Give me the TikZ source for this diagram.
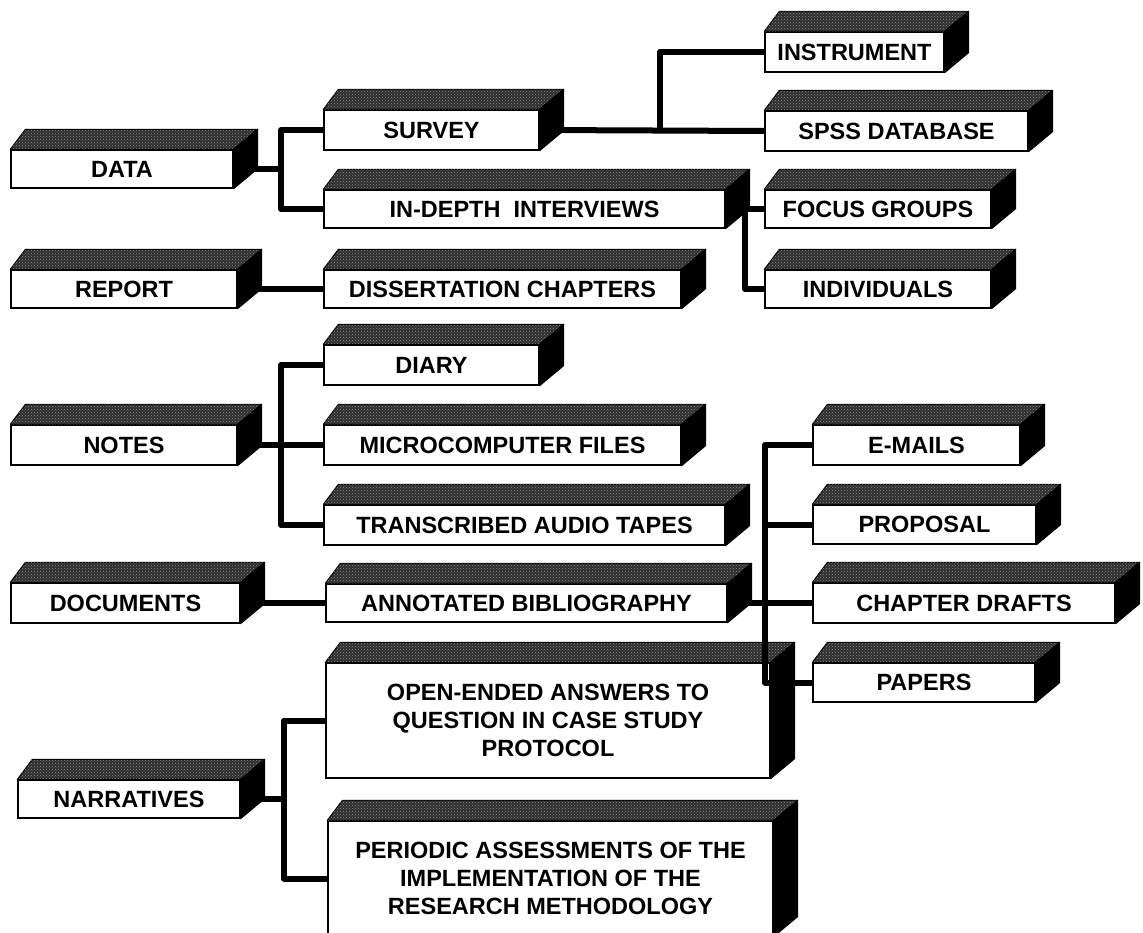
\documentclass[tikz,border=0pt]{standalone}
\usepackage{fontspec}
\setmainfont{Liberation Sans}
\usetikzlibrary{patterns}
\tikzset{
  x=1pt, y=1pt,
  front/.style={draw=black, line width=1.3pt, fill=white, inner sep=0pt, align=center,
    font=\bfseries\fontsize{23.5}{27.8}\selectfont},
  topface/.style={draw=black, line width=1pt, line join=round, fill=black!82,
    postaction={pattern=crosshatch dots, pattern color=black!45}},
  sideface/.style={fill=black, draw=black, line width=1pt, line join=round},
  conn/.style={line width=6pt, line join=round},
}
\newcommand\tbox[6]{%
  \pgfmathsetmacro\tbw{#4-#2}\pgfmathsetmacro\tbh{#5-#3}%
  \pgfmathsetmacro\tbx{(#2+#4)/2}\pgfmathsetmacro\tby{-(#3+#5)/2}%
  \node[front, minimum width=\tbw pt, minimum height=\tbh pt] (#1) at (\tbx,\tby) {#6};
  \filldraw[topface] (#1.north west) -- ++(15,20) -- ([shift={(24,20)}]#1.north east) -- (#1.north east) -- cycle;
  \filldraw[sideface] (#1.north east) -- ++(24,20) -- ([shift={(24,20)}]#1.south east) -- (#1.south east) -- cycle;
}
\begin{document}
\begin{tikzpicture}
\useasboundingbox[fill=white] (0,0) rectangle (1143,-933);
\tbox{ins}{765}{32}{944}{72}{INSTRUMENT}
\tbox{sur}{324}{110}{539}{150}{SURVEY}
\tbox{spss}{765}{111}{1028}{151}{SPSS DATABASE}
\tbox{data}{11}{150}{233}{188}{DATA}
\tbox{idi}{324}{190}{725}{228}{IN-DEPTH\ \ INTERVIEWS}
\tbox{foc}{765}{190}{991}{228}{FOCUS GROUPS}
\tbox{rep}{11}{270}{237}{308}{REPORT}
\tbox{dis}{324}{270}{681}{308}{DISSERTATION CHAPTERS}
\tbox{ind}{765}{270}{991}{308}{INDIVIDUALS}
\tbox{dia}{324}{345}{539}{385}{DIARY}
\tbox{notes}{11}{425}{237}{465}{NOTES}
\tbox{mic}{324}{425}{681}{465}{MICROCOMPUTER FILES}
\tbox{ema}{813}{425}{1020}{465}{E-MAILS}
\tbox{tra}{324}{505}{725}{545}{TRANSCRIBED AUDIO TAPES}
\tbox{pro}{813}{505}{1036}{544}{PROPOSAL}
\tbox{doc}{11}{583}{240}{623}{DOCUMENTS}
\tbox{ann}{326}{584}{727}{622}{ANNOTATED BIBLIOGRAPHY}
\tbox{chd}{813}{583}{1115}{623}{CHAPTER DRAFTS}
\tbox{ope}{326}{663}{770}{778}{OPEN-ENDED ANSWERS TO\\QUESTION IN CASE STUDY\\PROTOCOL}
\tbox{pap}{813}{663}{1035}{702}{PAPERS}
\tbox{nar}{18}{780}{240}{818}{NARRATIVES}
\tbox{per}{328}{821}{773}{936}{PERIODIC ASSESSMENTS OF THE\\IMPLEMENTATION OF THE\\RESEARCH METHODOLOGY}
% connectors
\coordinate (j1) at (281,-169);
\draw[conn] (data.east) -- (j1);
\draw[conn] (sur.west) -| (j1) |- (idi.west);
\coordinate (j2) at (660,-130);
\draw[conn] (sur.east) -- (spss.west);
\draw[conn] (j2) |- (ins.west);
\coordinate (j3) at (745,-209);
\draw[conn] (idi.east) -- (foc.west);
\draw[conn] (j3) |- (ind.west);
\draw[conn] (rep.east) -- (dis.west);
\coordinate (j4) at (281,-445);
\draw[conn] (notes.east) -- (mic.west);
\draw[conn] (dia.west) -| (j4) |- (tra.west);
\coordinate (j5) at (765,-524.5);
\draw[conn] (ema.west) -| (j5) |- (pap.west);
\draw[conn] (j5) -- (pro.west);
\draw[conn] (doc.east) -- (ann.west);
\draw[conn] (ann.east) -- (chd.west);
\coordinate (j6) at (284,-799);
\draw[conn] (nar.east) -- (j6);
\draw[conn] (ope.west) -| (j6) |- (per.west);
\end{tikzpicture}
\end{document}
